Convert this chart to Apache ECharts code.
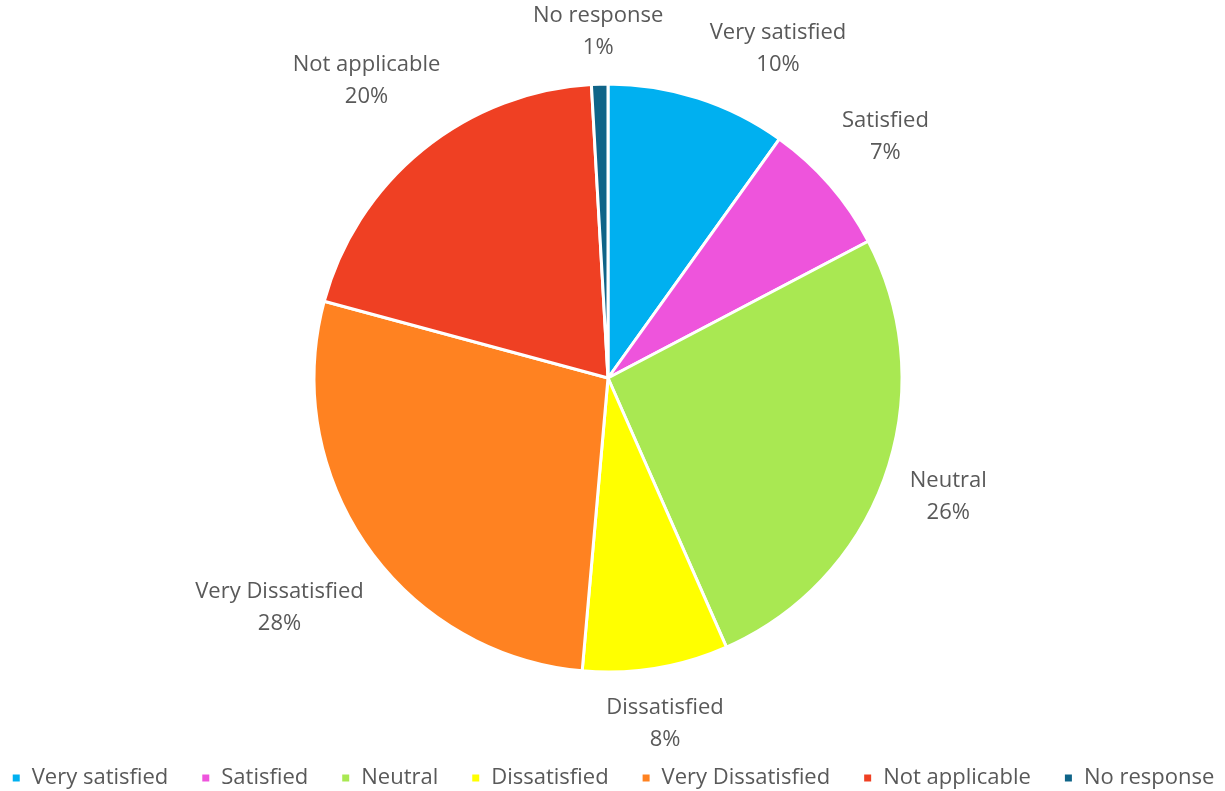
<!DOCTYPE html>
<html>
<head>
<meta charset="utf-8">
<script src="https://cdn.jsdelivr.net/npm/echarts@6/dist/echarts.min.js"></script>
<style>
html,body{margin:0;padding:0;background:#fff;}
#main{width:1225px;height:791px;}
</style>
</head>
<body>
<div id="main"></div>
<script>
const categories = ['Very satisfied', 'Satisfied', 'Neutral', 'Dissatisfied', 'Very Dissatisfied', 'Not applicable', 'No response'];
const values = [9.9, 7.4, 26.1, 8.0, 27.8, 19.9, 0.9];
const colors = ['#00B0F0', '#EE54DC', '#A9E852', '#FFFF00', '#FF8221', '#EF4023', '#0F6488'];

const FONT = 'Open Sans';
const FS = 22;
const CX = 608, CY = 378, R = 294, GAP = 20, PADX = 45, PADY = 10;

const chart = echarts.init(document.getElementById('main'), null, {renderer: 'canvas'});

const store = {};
let placed = null;

function placeAt(theta, w, h) {
  const ux = Math.sin(theta), uy = -Math.cos(theta);
  const hw = w / 2, hh = h / 2, R0 = R + GAP;
  let lo = 0, hi = 1500;
  for (let i = 0; i < 60; i++) {
    const t = (lo + hi) / 2;
    const gx = Math.max(0, Math.abs(t * ux) - hw);
    const gy = Math.max(0, Math.abs(t * uy) - hh);
    if (Math.sqrt(gx * gx + gy * gy) < R0) lo = t; else hi = t;
  }
  return { x: CX + lo * ux, y: CY + lo * uy, w: w, h: h };
}

function overlaps(a, b) {
  return Math.abs(a.x - b.x) < (a.w + b.w) / 2 + PADX && Math.abs(a.y - b.y) < (a.h + b.h) / 2 + PADY;
}

function computeAll() {
  placed = {};
  const done = [];
  const n = categories.length;
  for (let i = n - 1; i >= 0; i--) {
    const s = store[i];
    let theta = Math.atan2(s.ax - CX, -(s.ay - CY));
    let box = placeAt(theta, s.w, s.h);
    let k = 0;
    while (done.some(b => overlaps(b, box)) && k < 120) {
      theta += Math.PI / 360;
      box = placeAt(theta, s.w, s.h);
      k++;
    }
    done.push(box);
    placed[i] = box;
  }
}

function placeLabel(params) {
  const i = params.dataIndex;
  if (!placed) {
    const lr = params.labelRect;
    const ax = params.align === 'right' ? lr.x + lr.width : lr.x;
    store[i] = { ax: ax, ay: lr.y + lr.height / 2, w: lr.width, h: lr.height };
    const th = Math.atan2(store[i].ax - CX, -(store[i].ay - CY));
    const b = placeAt(th, lr.width, lr.height);
    return { x: b.x, y: b.y, align: 'center', verticalAlign: 'middle' };
  }
  const b = placed[i];
  return { x: b.x, y: b.y, align: 'center', verticalAlign: 'middle' };
}

function buildOption() {
  return {
    animation: false,
    backgroundColor: '#ffffff',
    color: colors,
    legend: {
      top: 762,
      left: 'center',
      icon: 'rect',
      itemWidth: 9,
      itemHeight: 9,
      itemGap: 32,
      data: categories,
      textStyle: { fontFamily: FONT, fontSize: FS, color: '#595959', padding: [0, 0, 0, 6] }
    },
    series: [{
      type: 'pie',
      center: [CX, CY],
      radius: R,
      startAngle: 90,
      clockwise: true,
      avoidLabelOverlap: false,
      data: categories.map((c, i) => ({ name: c, value: values[i] })),
      itemStyle: { borderColor: '#ffffff', borderWidth: 3 },
      label: {
        show: true,
        position: 'outside',
        distanceToLabelLine: 0,
        fontFamily: FONT,
        fontSize: FS,
        lineHeight: 32,
        color: '#595959',
        formatter: p => p.name + '\n' + Math.round(p.percent) + '%'
      },
      labelLine: { show: false, length: 20, length2: 0 },
      labelLayout: placeLabel,
      emphasis: { disabled: true }
    }]
  };
}

chart.setOption(buildOption());
if (Object.keys(store).length === categories.length) {
  computeAll();
  chart.setOption(buildOption(), true);
}
</script>
</body>
</html>
